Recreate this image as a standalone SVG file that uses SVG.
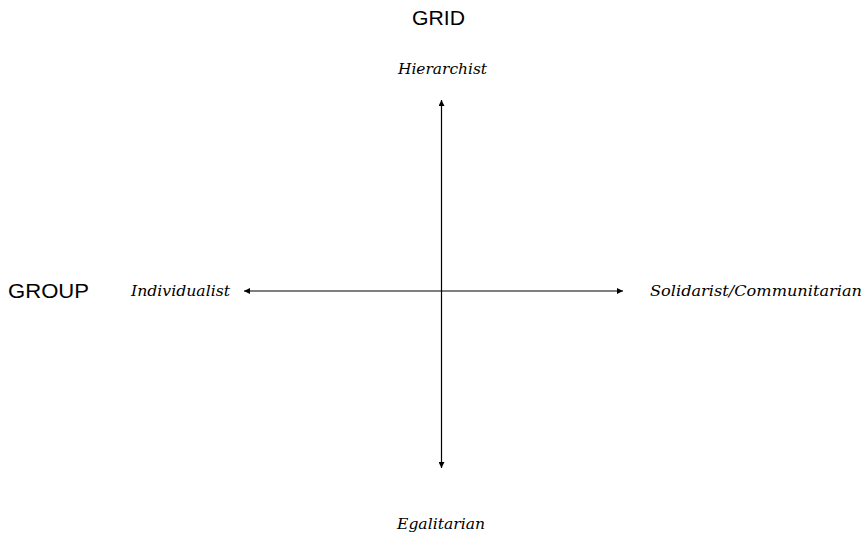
<svg xmlns="http://www.w3.org/2000/svg" width="865" height="535" viewBox="0 0 865 535">
<style>
.axis{font-family:"Liberation Sans",Arial,sans-serif;font-size:21px;fill:#000}
.lbl{font-family:"DejaVu Serif","Liberation Serif",serif;font-style:italic;font-size:14.5px;fill:#000}
.ln{stroke:#000;stroke-width:1.2;fill:none}
</style>
<defs>
<marker id="ah" viewBox="0 0 10 10" refX="10" refY="5" markerWidth="7" markerHeight="6" markerUnits="userSpaceOnUse" orient="auto-start-reverse">
<path d="M0,0 L10,5 L0,10 z" fill="#000"/>
</marker>
</defs>
<rect width="865" height="535" fill="#fff"/>
<g id="connectors">
<line class="ln" x1="441.5" y1="100" x2="441.5" y2="468" marker-start="url(#ah)" marker-end="url(#ah)"/>
<line class="ln" x1="244" y1="291" x2="623" y2="291" marker-start="url(#ah)" marker-end="url(#ah)"/>
</g>
<g id="grid"><text class="axis" x="412" y="25" textLength="53" lengthAdjust="spacingAndGlyphs">GRID</text></g>
<g id="group"><text class="axis" x="8" y="298" textLength="81" lengthAdjust="spacingAndGlyphs">GROUP</text></g>
<g id="hierarchist"><text class="lbl" x="398" y="74" textLength="89" lengthAdjust="spacingAndGlyphs">Hierarchist</text></g>
<g id="individualist"><text class="lbl" x="131" y="295.5" textLength="99" lengthAdjust="spacingAndGlyphs">Individualist</text></g>
<g id="solidarist"><text class="lbl" x="650" y="296" textLength="212" lengthAdjust="spacingAndGlyphs">Solidarist/Communitarian</text></g>
<g id="egalitarian"><text class="lbl" x="397" y="529" textLength="88" lengthAdjust="spacingAndGlyphs">Egalitarian</text></g>
</svg>
